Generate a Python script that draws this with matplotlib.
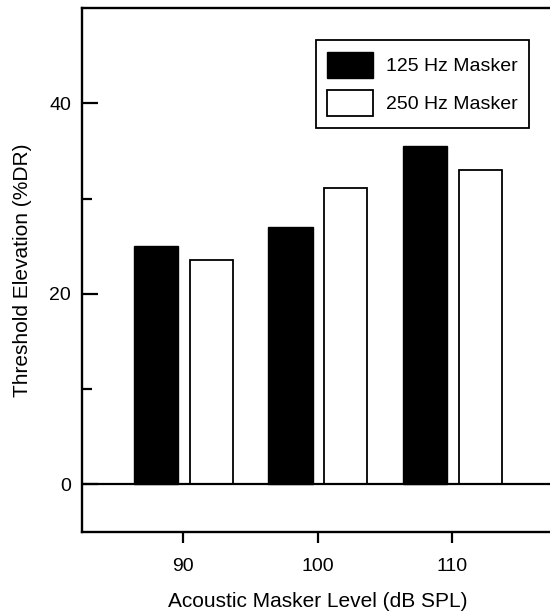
import matplotlib.pyplot as plt
import numpy as np

plt.rcParams['font.family'] = ['Liberation Sans', 'DejaVu Sans']

levels = [90, 100, 110]
masker_125 = [25.0, 27.0, 35.5]
masker_250 = [23.5, 31.1, 33.0]

fig = plt.figure(figsize=(5.5, 6.16), dpi=100)
ax = fig.add_axes([82 / 550, 1 - 532 / 616, 471 / 550, 524 / 616])

x = np.array(levels)
ax.bar(x - 2, masker_125, width=3.3, color='black', edgecolor='black',
       linewidth=1, label='125 Hz Masker')
ax.bar(x + 2.1, masker_250, width=3.2, color='white', edgecolor='black',
       linewidth=1.3, label='250 Hz Masker')
ax.axhline(0, color='black', linewidth=1.6)

ax.set_xlim(82.5, 117.5)
ax.set_ylim(-5, 50)
ax.set_xticks(levels)
ax.set_yticks([0, 20, 40])
ax.set_yticks([10, 30], minor=True)

for side in ['left', 'top', 'bottom']:
    ax.spines[side].set_linewidth(1.7)
ax.spines['right'].set_visible(False)

ax.tick_params(axis='y', which='major', direction='in', length=11.5, width=1.6,
               labelsize=14, pad=8)
ax.tick_params(axis='y', which='minor', direction='in', length=7, width=1.6)
ax.tick_params(axis='x', direction='out', length=8, width=1.6, labelsize=14, pad=11)

ax.set_xlabel('Acoustic Masker Level (dB SPL)', fontsize=15, labelpad=12)
ax.set_ylabel('Threshold Elevation (%DR)', fontsize=15, labelpad=12)

leg = ax.legend(loc='upper right', bbox_to_anchor=(447 / 471, 492 / 524),
                borderaxespad=0, fontsize=14, frameon=True, fancybox=False,
                edgecolor='black', framealpha=1,
                handlelength=2.32, handleheight=1.72, labelspacing=0.6,
                borderpad=0.6, handletextpad=0.67)
leg.get_frame().set_linewidth(1.3)

fig.savefig('out.png', dpi=100)
